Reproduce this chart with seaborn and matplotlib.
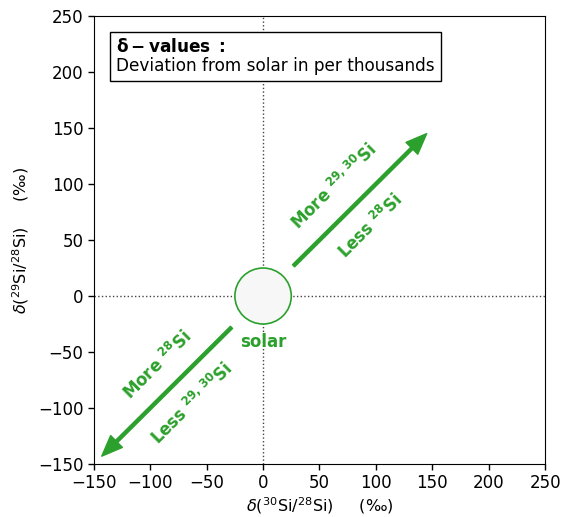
import matplotlib.pyplot as plt
import seaborn as sns
from matplotlib.patches import Circle

# Arrow start/end points (delta 30Si, delta 29Si)
arrow_starts = [(27, 27), (-28, -28)]
arrow_ends = [(145, 145), (-143, -143)]

# Labels along the arrows
label_texts = [r"More $^{\mathbf{29,\,30}}$Si", r"Less $^{\mathbf{28}}$Si",
               r"More $^{\mathbf{28}}$Si", r"Less $^{\mathbf{29,\,30}}$Si"]
label_x = [63, 95, -94, -63]
label_y = [98, 62, -62, -96]

solar_radius = 25
green = "#2ca02c"

sns.set_style("ticks")
plt.rcParams['font.family'] = ['DejaVu Sans']
plt.rcParams['text.color'] = 'black'
plt.rcParams['axes.labelcolor'] = 'black'
plt.rcParams['xtick.color'] = 'black'
plt.rcParams['ytick.color'] = 'black'

fig = plt.figure(figsize=(5.62, 5.17), dpi=100)
ax = fig.add_axes([0.167, 0.1025, 0.803, 0.8665])

ax.axhline(0, color="#444444", ls=":", lw=1, zorder=1)
ax.axvline(0, color="#444444", ls=":", lw=1, zorder=1)

ax.add_patch(Circle((0, 0), solar_radius, facecolor="#f7f7f7", edgecolor=green,
                    lw=1.2, zorder=2))
ax.text(0, -41, "solar", color=green, fontsize=12, fontweight="bold",
        ha="center", va="center")

for s, e in zip(arrow_starts, arrow_ends):
    ax.annotate("", xy=e, xytext=s,
                arrowprops=dict(facecolor=green, edgecolor=green, width=2.2,
                                headwidth=12, headlength=15, shrink=0))

for t, x, y in zip(label_texts, label_x, label_y):
    ax.text(x, y, t, color=green, fontsize=12, fontweight="bold", rotation=45,
            ha="center", va="center", rotation_mode="anchor")

ax.text(-130, 230, r"$\mathbf{\delta-values\ :}$" + "\nDeviation from solar in per thousands",
        fontsize=12.2, ha="left", va="top", linespacing=1.05,
        bbox=dict(boxstyle="square,pad=0.35", facecolor="white", edgecolor="black"))

ax.set_xlim(-150, 250)
ax.set_ylim(-150, 250)
ax.set_xticks(range(-150, 251, 50))
ax.set_yticks(range(-150, 251, 50))
ax.tick_params(labelsize=12, length=4, width=1, color="black")
ax.set_xlabel(r"$\delta(^{30}$Si/$^{28}$Si)     (‰)", fontsize=11.6, labelpad=2)
ax.set_ylabel(r"$\delta(^{29}$Si/$^{28}$Si)     (‰)", fontsize=11.6, labelpad=5)
for sp in ax.spines.values():
    sp.set_visible(True)
    sp.set_color("black")

fig.savefig("out.png", dpi=100)
